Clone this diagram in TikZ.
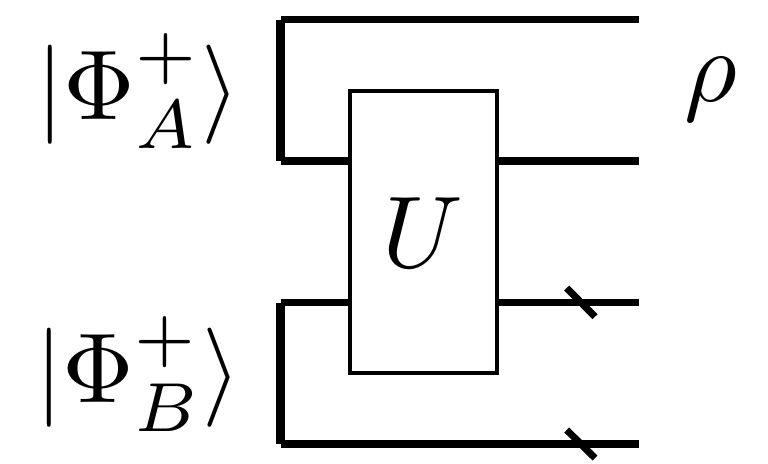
\documentclass[tikz,border=0pt]{standalone}
\usepackage{amssymb}
\usepackage{amsmath}
\usepackage{mathtools}

\tikzset{
    wire/.style={line width=2.1pt},
    post/.style={line width=2.3pt},
    slash/.style={line width=2pt},
    label/.style={inner sep=0pt, scale=2.9},
    ket/.style={inner sep=0pt, scale=2.82}
}

\begin{document}
\begin{tikzpicture}[x=0.01cm, y=-0.01cm]
    \useasboundingbox (0,0) rectangle (768,463);

    % The unitary box
    \node[draw, line width=1.05pt, minimum width=1.47cm, minimum height=2.82cm, inner sep=0pt] (box) at (423.5,232) {};
    \node[label] (U) at (423,233) {$U$};

    % Corners on the left
    \coordinate (topleft) at (280.5,19.5);
    \coordinate (midleftA) at (280.5,161);
    \coordinate (midleftB) at (280.5,302.5);
    \coordinate (botleft) at (280.5,444);
    \coordinate (inA) at (350,161);
    \coordinate (inB) at (350,302.5);
    \coordinate (outA) at (497,161);
    \coordinate (outB) at (497,302.5);

    % Right ends
    \coordinate (topright) at (638.5,19.5);
    \coordinate (endA) at (638.5,161);
    \coordinate (endB) at (638.5,302.5);
    \coordinate (botright) at (638.5,444);

    % Wires
    \draw[wire] (topleft) -- (topright);
    \draw[wire] (midleftA) -- (inA);
    \draw[wire] (outA) -- (endA);
    \draw[wire] (midleftB) -- (inB);
    \draw[wire] (outB) -- (endB);
    \draw[wire] (botleft) -- (botright);

    % Bends closing the pairs
    \draw[post] (topleft) -- (midleftA);
    \draw[post] (midleftB) -- (botleft);

    % Traced out wires
    \coordinate (tickAs) at (566.7,288);
    \coordinate (tickAe) at (595,316.7);
    \coordinate (tickBs) at (566.7,430);
    \coordinate (tickBe) at (595,458);
    \draw[slash] (tickAs) -- (tickAe);
    \draw[slash] (tickBs) -- (tickBe);

    % Labels
    \node[ket] (PhiA) at (138,91) {$|\Phi_A^+\rangle$};
    \node[ket] (PhiB) at (138,374) {$|\Phi_B^+\rangle$};
    \node[label] (rho) at (711,89) {$\rho$};
\end{tikzpicture}
\end{document}
